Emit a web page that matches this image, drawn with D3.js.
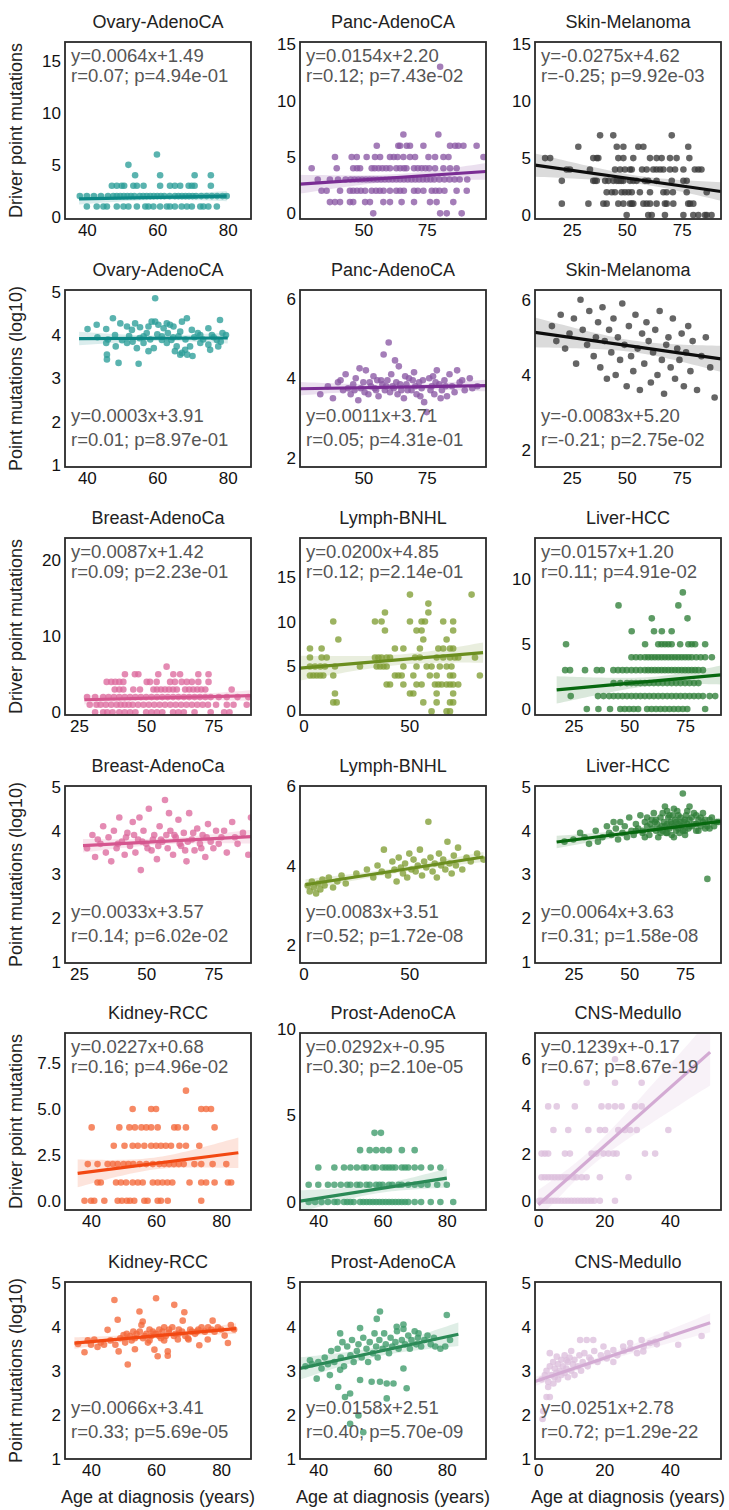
<!DOCTYPE html>
<html><head><meta charset="utf-8">
<script src="https://cdn.jsdelivr.net/npm/d3@7"></script>
<style>body{margin:0;background:#fff} svg text{font-family:"Liberation Sans",Arial,sans-serif}</style>
</head><body><svg id="c" width="729" height="1510"></svg>
<script>
// ---------------- DATA ----------------
const titles = ["Ovary-AdenoCA","Panc-AdenoCA","Skin-Melanoma","Ovary-AdenoCA","Panc-AdenoCA","Skin-Melanoma",
  "Breast-AdenoCa","Lymph-BNHL","Liver-HCC","Breast-AdenoCa","Lymph-BNHL","Liver-HCC",
  "Kidney-RCC","Prost-AdenoCA","CNS-Medullo","Kidney-RCC","Prost-AdenoCA","CNS-Medullo"];
const yTitles = ["Driver point mutations","Point mutations (log10)"];
const xTitle = "Age at diagnosis (years)";
const eqTexts = ["y=0.0064x+1.49","y=0.0154x+2.20","y=-0.0275x+4.62","y=0.0003x+3.91","y=0.0011x+3.71","y=-0.0083x+5.20",
  "y=0.0087x+1.42","y=0.0200x+4.85","y=0.0157x+1.20","y=0.0033x+3.57","y=0.0083x+3.51","y=0.0064x+3.63",
  "y=0.0227x+0.68","y=0.0292x+-0.95","y=0.1239x+-0.17","y=0.0066x+3.41","y=0.0158x+2.51","y=0.0251x+2.78"];
const statTexts = ["r=0.07; p=4.94e-01","r=0.12; p=7.43e-02","r=-0.25; p=9.92e-03","r=0.01; p=8.97e-01","r=0.05; p=4.31e-01","r=-0.21; p=2.75e-02",
  "r=0.09; p=2.23e-01","r=0.12; p=2.14e-01","r=0.11; p=4.91e-02","r=0.14; p=6.02e-02","r=0.52; p=1.72e-08","r=0.31; p=1.58e-08",
  "r=0.16; p=4.96e-02","r=0.30; p=2.10e-05","r=0.67; p=8.67e-19","r=0.33; p=5.69e-05","r=0.40; p=5.70e-09","r=0.72; p=1.29e-22"];
const slopes = [0.0064,0.0154,-0.0275,0.0003,0.0011,-0.0083,0.0087,0.0200,0.0157,0.0033,0.0083,0.0064,0.0227,0.0292,0.1239,0.0066,0.0158,0.0251];
const intercepts = [1.49,2.20,4.62,3.91,3.71,5.20,1.42,4.85,1.20,3.57,3.51,3.63,0.68,-0.95,-0.17,3.41,2.51,2.78];
const lineRanges = [[37.8,79.7],[25,98.4],[8.3,92.9],[37.8,80],[25,98.4],[8.3,92.9],
  [27,89],[-1.6,84.8],[17.5,91.1],[26.5,89],[1,85],[17.5,91.1],
  [35.9,85.3],[34.3,80],[0,52.2],[34.9,84.6],[34.3,83.6],[-1,52.2]];
const xDomains = [[33.8,86.6],[25,98.4],[8.3,92.9],[33.8,86.6],[25,98.4],[8.3,92.9],
  [19.8,89],[-1.6,86.2],[7.8,91.1],[19.8,89],[-1.6,86.2],[7.8,91.1],
  [32,89.2],[34.3,92.2],[-1,55.5],[32,89.2],[34.3,92.2],[-1,55.5]];
const yDomains = [[-0.2,16.8],[-0.5,15.2],[-0.35,15.2],[0.96,5.04],[1.77,6.22],[1.55,6.26],
  [-0.35,22.9],[-0.4,19.3],[-0.46,13.2],[0.98,5.02],[1.55,6.0],[0.98,5.02],
  [-0.5,9.14],[-0.46,9.77],[-0.39,7.11],[1.0,5.03],[0.99,5.02],[0.99,5.02]];
const xTickVals = [[40,60,80],[50,75],[25,50,75],[40,60,80],[50,75],[25,50,75],
  [25,50,75],[0,50],[25,50,75],[25,50,75],[0,50],[25,50,75],
  [40,60,80],[40,60,80],[0,20,40],[40,60,80],[40,60,80],[0,20,40]];
const yTickVals = [[0,5,10,15],[0,5,10,15],[0,5,10,15],[1,2,3,4,5],[2,4,6],[2,4,6],
  [0,10,20],[0,5,10,15],[0,5,10],[1,2,3,4,5],[2,4,6],[1,2,3,4,5],
  [0,2.5,5,7.5],[0,5,10],[0,2,4,6],[1,2,3,4,5],[1,2,3,4,5],[1,2,3,4,5]];
const statPlacement = ["top","top","top","bottom","bottom","bottom","top","top","top","bottom","bottom","bottom","top","top","top","bottom","bottom","bottom"];

// driver mutation counts: [count, [ages...]]
const ovaryDrv = [[6,[59.9]],[5,[51.8]],[4,[53.7,60.8,70.6,75.2]],
  [3,[47.1,48.5,49.9,50.6,53.2,54.2,56.1,60.8,63.6,65.0,66.5,68.9,69.8,70.6,75.2]],
  [2,[38,40,42,44,46,47.5,48.5,49.5,50.5,51.5,52.5,53.5,55,56,57,58,59,60,61,62,63.5,65,66,67,68,69,70,71,72.5,74,75.5,77,78.5,79.7]],
  [1,[40,42.8,44.7,45.7,48.5,50.4,51.8,54.2,56.6,57.5,58.9,60.8,62.7,63.6,65,66.9,68.4,69.8,72.2,73.1,74.5,76.9]]];
const pancDrv = [[13,[80.3]],[7,[65.8,79.6]],[6,[55.3,63.8,64.5,67.1,68.4,73.7,84.2,86.2,87.5,89.5,94.7]],
  [5,[38.8,45.4,47.4,51.3,54.6,56.6,60.5,62,63.5,65.8,68.4,70.4,75.7,78.3,81.6,83.6,97.4]],
  [4,[29.6,39.5,46,47.5,48.7,53.3,54.5,56,57.5,59,60.5,63,64.5,66,67,70,71.5,73,74.5,76,78.3,81.6,84.2,86.8]],
  [3,[32,36.8,40,43,45,46.5,48,49.5,51,52.5,54,55.5,57,58.5,60,61.5,63,64.5,66,67.5,69,70.5,72,73.5,75,76.5,78,80,82,84,86,88,91]],
  [2,[33.5,35.5,40.8,44.7,46,47.5,49,50.7,53.3,55,56.5,58,60.5,63,64.5,66,70,71.5,73.7,77,78.5,80,82,86.8,90.8]],
  [1,[36.8,38.8,40.8,44.7,46,50.7,52.6,57.9,60.5,65.1,70,76.3,78.9,85.5]],
  [0,[53.9,80.3,82.9,88.8]]];
const skinDrv = [[7,[37.9,43.9,70.5]],[6,[28,45.5,48.5,55.3,57.6,78]],
  [5,[12.9,15.2,34.8,36.4,37.1,46.2,48.5,53,60.6,63.6,65.9,69.7,72.7,78.5]],
  [4,[22.7,24.2,33.3,44.7,47,49.2,51.5,52.3,57,59.1,62.1,63.6,65.2,66.7,69.7,72,75.8,81,82.6,84]],
  [3,[20.5,34.8,35.6,36.4,40.2,41.7,43.9,45.5,46.5,47.5,48.5,51.5,53,54.5,58.3,59.8,63.6,70.5,75.8,77.3]],
  [2,[40.9,43.2,44.7,47.7,49.2,50.8,52.3,56,60.6,66.7,68.2,71,77.3,86.4]],
  [1,[20.5,32.6,39.4,40.9,46.2,48.5,51.5,52.3,53,57.6,59.1,60.6,63.6,67.4,68.2,71.2,78,78.8,80.3]],
  [0,[50,59.8,61.4,67.4,75.8,80.3,82.6,85.6,86.4,88.6]]];
const breastDrv = [[6,[57.6]],[5,[42.1,45.8,47.1,54.5,60.1,62.6,69.4,73.2]],
  [4,[35.3,37,38.5,40,41.5,50.2,51.4,53.9,58.9,60.7,63.2,65.1,67,69.4,73.2]],
  [3,[38.3,40,41.5,45.2,47.7,52.7,54,55.5,57,58.5,60,61.4,64.5,66,67.5,69,70.5,72,81.8]],
  [2,[28,31,34,36,38,40,42,44,46,48,50,52,54,56,58,60,62,64,66,68,70,72,74,77,80,84,88]],
  [1,[29,31.5,33,35,37,39,40.5,42,43.5,45,47,49,51,53,55,57,59,61,63,65,67,69,71,73,76,80,82.5,87.4]],
  [0,[31,34,35.5,37.5,40,42,44,46,50,52,54,56,60,62,64,68,74,79,81]]];
const lymphDrv = [[13,[50.3,79.4]],[12,[59]],[11,[38.5,59]],[10,[14.1,33.8,36.9,50.3,55.8,57.4,66,70.7]],
  [9,[38.5,53.4,55.8,70.7]],[8,[16.5,56.6,67.6]],[7,[3.1,8.6,43.2,47.2,55,63.7,66,69.2,70.7]],
  [6,[3.1,8.6,11,33.8,35.4,36.9,39.3,40.9,52.7,55,62.9,66,69.2,71.5,73.1,81]],
  [5,[3.1,5.5,8,10.2,14.9,26.7,34.6,36.2,37.8,39.3,47.2,53.4,58.2,60.5,64.4,67.6,69.9]],
  [4,[3.1,4.7,6.3,7.9,9.4,14.1,43.2,44.8,46.4,51.9,59.7,62.9,69.2,70.7,83.3]],
  [3,[39.3,40.9,47.2,53.4,55.8,62.1,63.7,65.3,67.6,69.2,70.7,73.1]],
  [2,[14.9,50.3,51.9,62.9,70.7]],[1,[14.1,15.7,56.6,62.9,69.2,70.7]],[0,[60.5,67.6,69.2]]];
const liverDrv = [[9,[74]],[8,[45.2,72]],[7,[60.1,76.1]],[6,[51.1,61.1,64.6,69]],
  [5,[21.7,57.1,63,64.5,66,67.5,69,72.8,76.5,78,79.5,84]],
  [4,[51,53,55,57,58.5,60,61.5,63,64.5,66,67.5,69,70.5,72,73.5,75,76.5,78,80,82,84,87]],
  [3,[21.3,23.5,30.2,35.5,37.7,42.9,45,47,48.9,51,53,55,57,58.5,60,61.5,63,64.5,66,67.5,69,70.5,72,73.5,75,76.5,78,79.5,81,83]],
  [2,[43,46,49,51,53,55,57,59,61,63,65,67,69,71,73,75,77,79,81]],
  [1,[23.8,36,38.5,41,43,45,47,49,51,53,55,57,59,61,63,65,67,69,71,73,75,77,79,81,83,86,88.5]],
  [0,[31,36.2,41.4,46,48,50,52,54,58,60,62,64,66,68,70,72,74,76,84]]];
const kidneyDrv = [[6,[69.2]],[5,[52.8,58.5,60,73.9,75.4,76.9]],
  [4,[40.2,48.7,51.8,53.5,55.5,57,58.5,60.5,65.6,66.7,69.2,78]],
  [3,[47,50.3,52.8,54.4,56.4,58.5,60,61.5,63,64.6,67.2,69.2,73.3]],
  [2,[39,42,45.1,46.7,48.2,50,51.5,53,55,57,59,61,62.5,64,65.5,67,68.5,71.8,73.9,77.4,81.6]],
  [1,[42,43,47.7,49.2,50.8,52.8,54.4,55.9,59,60.5,62,63.5,65,70.3,73.9,75.4,78,82.1,83.1]],
  [0,[38,40,41,44.1,48.2,49.5,51,52,53.3,56.4,57.4,60.5,61.5,63.6,73.9]]];
const prostDrv = [[4,[57.5,59.5]],[3,[53,56,58,60,62,66,70]],
  [2,[40,45,48,50,52,54,55,57,58,60,61,62,63,64,66,67,68,70,72,75,78]],
  [1,[37,40,43,45,47,49,50,52,53,55,56,58,59,60,62,63,65,66,68,70,72,74,77,80]],
  [0,[37,39,41,43,45,46,48,49,50,51,53,54,55,56,57,58,59,60,61,62,63,64,65,66,67,68,70,72,75,78,82]]];
const cnsDrv = [[6,[23.3]],[5,[14.7,23.3,31.4]],[4,[3,5.6,11.1,19.2,21.3,23.3,25.3,29.4,31.4]],
  [3,[4.6,9.1,15.2,18.7,20.3,24.3,26.3,27.9,29.9,39.5]],
  [2,[1,2,3,8.1,9.6,16.2,17.7,19.8,21.3,22.8,23.8,32.4,35.5]],
  [1,[1,2,3,4,5,6,7,8,9,10.6,11.6,13.2,14.7,18.7,27.4]],
  [0,[0.3,1,2,3,4,5,6,7,8,9,10,11,12,13,14,15,16,17,18.7,23.3]]];

// log10 point mutations: [age, value]
const ovaryLog = [[59.4,4.85],[40.2,4.14],[42.8,4.24],[45.5,4.14],[47.4,4.39],[49.5,4.27],[51.4,4.2],[52.8,4.12],[53.7,4.27],[55.1,4.18],[56.1,3.97],[57.5,4.2],[58.4,4.31],[59.4,4.31],[60.3,4.24],[61.8,4.16],[62.7,4.27],[63.6,4.24],[64.6,4.2],[67,4.31],[68.4,4.39],[69.8,4.12],[72.2,4.0],[74.5,4.16],[77.8,4.35],[61.3,3.97],[66,3.97],[45.5,3.82],[45.7,3.55],[45.7,3.44],[49,3.36],[48.2,3.74],[51.4,3.82],[54.2,3.7],[54.7,3.34],[56.1,3.82],[57.5,3.63],[59,3.7],[61.3,3.89],[62.7,3.82],[64,3.89],[65.5,3.74],[67,3.59],[67.9,3.66],[69.3,3.74],[72.2,3.82],[74.5,3.78],[75,3.66],[76.9,3.89],[77.3,3.74],[66.5,3.55],[65,3.63],[68.5,3.55],[70,3.52],[43,3.95],[46,3.9],[48,4.0],[50,3.88],[52,3.98],[53,3.85],[55,3.93],[57,4.05],[58,3.9],[60,4.02],[63,4.05],[64.5,3.95],[66.5,4.08],[68,3.9],[70.5,3.95],[71.5,4.05],[73,3.9],[75.5,4.0],[76,3.95],[78,3.85],[78.5,4.05],[79.5,4.0]];
const pancLog = [[33,3.6],[36,3.8],[38,3.5],[40,3.9],[42,3.7],[43,4.1],[45,3.6],[46,3.85],[47,4.0],[48,3.45],[49,3.75],[50,3.9],[51,4.2],[52,3.6],[53,3.8],[54,4.05],[55,3.7],[56,3.55],[57,3.95],[58,4.6],[59,3.8],[60,4.9],[60.5,3.65],[61,4.1],[62,3.75],[63,3.9],[64,4.3],[65,3.7],[66,3.5],[67,3.85],[68,4.0],[69,3.7],[70,4.15],[71,3.6],[72,3.9],[73,3.75],[74,3.4],[75,3.15],[76,4.0],[77,3.8],[78,3.6],[79,4.2],[80,3.85],[81,3.7],[82,3.95],[83,3.55],[84,4.1],[85,3.8],[86,3.65],[88,3.9],[90,3.7],[92,4.0],[95,3.8],[44,3.75],[50.5,3.65],[55.5,3.95],[58.5,3.7],[63.5,3.6],[66.5,4.05],[69.5,3.95],[72.5,3.55],[77.5,4.05],[80.5,3.5],[87,4.2],[62.5,4.45],[48.5,4.25],[41,3.95],[46.5,3.7],[52.5,3.9],[54.5,3.75],[57.5,3.85],[59.5,3.95],[61.5,3.8],[64.5,3.85],[67.5,3.7],[70.5,3.8],[73.5,3.95],[76.5,3.7],[78.5,3.9],[82.5,3.8],[89,3.95],[93,3.75]];
const skinLog = [[16,5.3],[18,4.9],[20,5.6],[22,4.7],[24,5.1],[26,5.5],[27,4.3],[29,6.0],[30,5.2],[32,4.8],[33,5.7],[35,4.5],[36,5.0],[37,5.4],[38,4.2],[39,5.8],[40,4.9],[41,3.9],[42,5.2],[43,4.6],[44,5.5],[45,4.0],[46,5.0],[47,4.4],[48,5.9],[49,4.8],[50,3.7],[51,5.3],[52,4.5],[53,4.1],[54,5.6],[55,4.7],[56,3.6],[57,5.1],[58,4.3],[59,5.4],[60,4.9],[61,3.8],[62,4.6],[63,5.2],[64,4.0],[65,5.7],[66,4.4],[67,3.5],[68,4.8],[69,5.0],[70,4.2],[71,5.5],[72,3.9],[73,4.7],[74,4.4],[75,5.1],[76,3.7],[77,4.6],[78,5.3],[79,4.1],[80,4.9],[82,3.6],[84,4.5],[86,5.0],[88,4.2],[90,3.4]];
const breastLog = [[28,3.6],[30,3.9],[31,3.4],[33,3.7],[34,4.1],[35,3.5],[36,3.85],[37,3.3],[38,4.0],[39,3.6],[40,4.3],[41,3.75],[42,3.45],[43,3.95],[44,3.65],[45,4.2],[46,3.5],[47,3.8],[48,3.1],[49,4.0],[50,3.7],[51,4.5],[52,3.55],[53,3.9],[54,3.35],[55,4.1],[56,3.75],[57,4.7],[58,3.6],[59,4.0],[60,3.45],[61,3.85],[62,4.25],[63,3.65],[64,3.95],[65,3.3],[66,4.4],[67,3.8],[68,3.55],[69,4.05],[70,3.7],[71,3.9],[72,3.4],[73,4.15],[74,3.75],[75,3.6],[76,4.0],[78,3.85],[80,3.5],[82,4.2],[84,3.7],[86,3.95],[88,3.45],[89,4.3],[45.5,3.9],[50.5,3.6],[55.5,3.8],[60.5,3.9],[65.5,3.75],[58.5,4.4],[47.5,4.3],[32,3.8],[39.5,3.7],[42.5,3.85],[48.5,3.75],[52.5,3.8],[54.5,3.65],[57.5,3.9],[62.5,3.7],[64.5,3.55],[67.5,3.95],[70.5,3.6],[72.5,3.85],[77,3.7],[79,4.0],[83,3.85]];
const lymphLog = [[2,3.5],[3,3.35],[4,3.6],[5,3.45],[6,3.3],[7,3.55],[8,3.4],[9,3.65],[10,3.5],[12,3.7],[14,3.45],[16,3.6],[18,3.75],[20,3.55],[25,3.8],[30,3.9],[33,3.7],[35,4.0],[37,3.85],[38,4.4],[40,3.75],[42,4.1],[43,3.9],[44,3.6],[45,4.2],[46,3.95],[47,3.8],[48,4.05],[49,3.7],[50,4.3],[51,3.9],[52,4.15],[53,3.85],[54,4.0],[55,4.4],[56,3.75],[57,4.1],[58,3.95],[59,5.1],[60,4.2],[61,3.85],[62,4.05],[63,3.7],[64,4.3],[65,4.0],[66,4.15],[67,3.9],[68,4.6],[69,4.05],[70,3.8],[71,4.25],[72,4.0],[73,4.45],[75,3.9],[77,4.2],[79,4.1],[82,4.3],[85,4.15]];
const liverLog = [[21,3.75],[25,3.8],[28,3.95],[32,3.7],[35,4.0],[38,3.85],[40,4.1],[42,3.9],[44,4.05],[45,3.8],[46,4.2],[47,3.95],[48,4.1],[49,3.85],[50,4.3],[51,4.0],[52,3.9],[53,4.15],[54,4.05],[55,4.35],[56,3.95],[57,4.2],[58,4.1],[59,3.9],[60,4.25],[60.5,4.05],[61,4.4],[62,4.0],[62.5,4.15],[63,3.85],[64,4.3],[64.5,4.1],[65,4.0],[65.5,4.2],[66,4.55],[66.5,3.95],[67,4.15],[67.5,4.3],[68,4.05],[68.5,4.2],[69,3.9],[69.5,4.35],[70,4.1],[70.5,4.25],[71,4.0],[71.5,4.45],[72,4.15],[72.5,3.95],[73,4.3],[73.5,4.1],[74,4.85],[74.5,4.2],[75,4.0],[75.5,4.35],[76,4.15],[76.5,4.05],[77,4.25],[78,4.1],[79,4.4],[80,4.15],[81,4.0],[82,4.3],[83,4.2],[84,4.05],[85,2.9],[86,4.25],[88,4.1],[90,4.2],[56,4.0],[58,4.3],[59.5,4.15],[61.5,4.2],[63.5,4.05],[65,4.4],[66,4.1],[67,3.95],[68,4.35],[69,4.15],[70,4.5],[71,4.2],[72,4.05],[73,4.2],[74,4.0],[75,4.25],[76,4.45],[77,4.1],[78,4.3],[79,4.15],[80,4.35],[81,4.25],[82,4.1],[83,4.4],[84,4.25],[85,4.1],[86,4.05],[87,4.3],[89,4.2],[30,3.85],[36,3.75],[41,3.95],[43,4.2],[53,4.0],[57,3.85],[62,4.25],[64,3.95],[67,4.45],[70,3.85],[72,4.35],[75,3.9],[77,4.55],[80,4.0]];
const kidneyLog = [[36,3.62],[38,3.43],[39,3.7],[40,3.6],[41,3.72],[42,3.55],[43,3.65],[44,3.6],[45.1,3.94],[46,3.7],[47.2,4.62],[47.5,3.6],[48.2,4.17],[48.5,3.45],[49,3.75],[50,3.82],[50.5,3.65],[51.3,3.15],[52,3.8],[52.5,3.7],[53,3.9],[53.5,3.5],[54,3.85],[54.9,4.36],[55.5,4.05],[55.9,4.13],[56,3.75],[57,3.85],[57.5,3.65],[58,3.95],[58.5,3.8],[59,3.9],[59.5,3.49],[60,4.66],[60,3.85],[60.5,3.34],[61,3.95],[61.5,3.75],[62,3.9],[62.5,4.0],[63,3.8],[63.6,3.45],[63.6,3.35],[64,3.88],[65,4.0],[65.6,4.51],[66,3.85],[66.7,3.72],[67,3.95],[68,3.9],[68.2,4.15],[68.7,4.34],[69,3.8],[69.8,3.75],[70,3.72],[71,3.9],[72,3.85],[73,3.95],[73.3,3.59],[74,4.0],[75,3.9],[75.9,3.72],[76,4.0],[77,3.95],[77.4,4.15],[78,3.9],[79,4.0],[80,3.95],[81.1,3.81],[82.1,3.64],[83,4.05],[84,3.95],[51,3.85],[53.5,3.75],[55,3.9],[56.5,3.8],[58,3.7],[59.5,3.85],[61,3.8],[62.5,3.7],[64,3.95],[65.5,3.8],[67,3.85],[70.5,3.95],[72.5,3.9]];
const prostLog = [[37.4,3.24],[39.5,2.82],[43.6,2.9],[46.8,3.02],[46.2,2.63],[48.3,2.4],[49.9,2.48],[49.9,1.79],[52.5,1.98],[53,2.79],[54,1.6],[56.6,2.75],[59.2,2.75],[61.3,2.71],[63.4,2.71],[61.3,2.37],[66.5,3.05],[67.5,2.6],[76.4,3.55],[79.5,3.55],[81,3.7],[71.2,3.85],[66.5,4.05],[64.4,4.0],[53,3.97],[46.8,3.85],[59.2,4.35],[58.2,4.18],[80,4.27],[36,3.1],[38,3.15],[40,3.2],[41,3.05],[42,3.3],[43,3.15],[44,3.45],[45,3.2],[46,3.5],[47,3.3],[47.5,3.65],[48,3.1],[49,3.55],[50,3.35],[50.5,3.7],[51,3.2],[52,3.45],[52.5,3.6],[53.5,3.3],[54,3.75],[55,3.5],[55.5,3.2],[56,3.65],[57,3.4],[57.5,3.85],[58,3.55],[58.5,3.3],[59,3.7],[60,3.5],[60.5,3.85],[61,3.6],[62,3.4],[62.5,3.75],[63,3.55],[64,3.65],[64.5,3.9],[65,3.5],[66,3.7],[66.5,3.95],[67,3.6],[68,3.8],[68.5,3.5],[69,3.7],[70,3.9],[70.5,3.6],[71,3.75],[72,3.55],[73,3.7],[74,3.8],[75,3.6],[76,3.75],[78,3.5]];
const cnsLog = [[1.5,2.08],[1.3,1.9],[2.5,2.4],[3.5,2.4],[3,2.63],[4.6,2.71],[3.5,3.4],[5.6,3.32],[8.6,3.24],[12.7,3.7],[14.7,3.7],[16.7,3.7],[19.8,3.55],[22.8,3.47],[25.8,3.55],[27.9,3.63],[31.4,3.7],[31.9,3.44],[33.9,3.63],[35.5,3.66],[39,3.82],[42.5,3.59],[49.6,3.79],[22.8,3.2],[20.8,3.28],[1,2.8],[2,2.9],[2.5,3.0],[3,2.75],[3.5,3.1],[4,2.9],[4.5,3.2],[5,2.85],[5,3.05],[5.5,2.95],[6,3.15],[6,2.8],[6.5,3.0],[7,3.25],[7,2.9],[7.5,3.1],[8,3.35],[8,2.95],[8.5,3.05],[9,3.2],[9,2.85],[9.5,3.3],[10,3.0],[10,3.45],[10.5,3.15],[11,3.25],[11,2.9],[12,3.1],[12.5,3.35],[13,3.0],[13.5,3.2],[14,3.4],[15,3.1],[15.5,3.3],[16,3.25],[17,3.45],[18,3.2],[19,3.35],[21,3.4],[24,3.35],[26,3.45],[28,3.5],[30,3.4],[32,3.55],[36,3.6]];

const pointColors = {ovary:"#2b9e99",panc:"#8a58a4",skin:"#3a3a3a",breast:"#dc6a9d",lymph:"#809e34",liver:"#2f7f38",kidney:"#f4683a",prost:"#3c9a69",cns:"#dcbfdc"};
const lineColors = {ovary:"#0c8886",panc:"#7a2d94",skin:"#0d0d0d",breast:"#d5568f",lymph:"#6b8e1f",liver:"#07680f",kidney:"#f24812",prost:"#2b8a57",cns:"#d3aad3"};
const cancerKeys = ["ovary","panc","skin","ovary","panc","skin","breast","lymph","liver","breast","lymph","liver","kidney","prost","cns","kidney","prost","cns"];

// ---------------- BUILD ----------------
const expand = rows => rows.flatMap(([v, ages]) => ages.map(a => [a, v]));
const panelPoints = [expand(ovaryDrv), expand(pancDrv), expand(skinDrv), ovaryLog, pancLog, skinLog,
  expand(breastDrv), expand(lymphDrv), expand(liverDrv), breastLog, lymphLog, liverLog,
  expand(kidneyDrv), expand(prostDrv), expand(cnsDrv), kidneyLog, prostLog, cnsLog];

const colX = [65, 300, 535], rowY = [42, 290, 538, 786, 1033, 1282];
const W = 186, H = 177;
const svg = d3.select("#c");
const FONT = '"Liberation Sans", Arial, sans-serif';

panelPoints.forEach((pts, i) => {
  const r = Math.floor(i / 3), c = i % 3;
  const x0 = colX[c], y0 = rowY[r];
  const key = cancerKeys[i];
  const xs = d3.scaleLinear().domain(xDomains[i]).range([0, W]);
  const ys = d3.scaleLinear().domain(yDomains[i]).range([H, 0]);
  const g = svg.append("g").attr("transform", `translate(${x0},${y0})`);
  const clipId = "clip" + i;
  g.append("clipPath").attr("id", clipId).append("rect").attr("width", W).attr("height", H);
  const inner = g.append("g").attr("clip-path", `url(#${clipId})`);

  const a = slopes[i], b = intercepts[i];
  const n = pts.length, mx = d3.mean(pts, d => d[0]);
  const sxx = d3.sum(pts, d => (d[0] - mx) ** 2);
  const s = Math.sqrt(d3.sum(pts, d => (d[1] - (a * d[0] + b)) ** 2) / (n - 2));
  const [l0, l1] = lineRanges[i];
  const bx = d3.range(0, 41).map(k => l0 + (l1 - l0) * k / 40);
  const band = bx.map(x => { const h = 1.97 * s * Math.sqrt(1 / n + (x - mx) ** 2 / sxx); return [x, a * x + b - h, a * x + b + h]; });
  inner.append("path").datum(band)
    .attr("d", d3.area().x(d => xs(d[0])).y0(d => ys(d[1])).y1(d => ys(d[2])))
    .attr("fill", lineColors[key]).attr("opacity", 0.15);

  inner.selectAll("circle").data(pts).join("circle")
    .attr("cx", d => xs(d[0])).attr("cy", d => ys(d[1])).attr("r", 3.3)
    .attr("fill", pointColors[key]).attr("opacity", 0.78);

  inner.append("line")
    .attr("x1", xs(l0)).attr("y1", ys(a * l0 + b)).attr("x2", xs(l1)).attr("y2", ys(a * l1 + b))
    .attr("stroke", lineColors[key]).attr("stroke-width", 3.2);

  g.append("rect").attr("width", W).attr("height", H).attr("fill", "none")
    .attr("stroke", "#2a2a2a").attr("stroke-width", 1.8);

  const fmt = i === 12 ? d3.format(".1f") : d3.format("d");
  const ya = g.append("g").call(d3.axisLeft(ys).tickValues(yTickVals[i]).tickSize(0).tickPadding(4).tickFormat(fmt));
  ya.select(".domain").remove();
  ya.selectAll("text").attr("font-size", 17).attr("font-family", FONT).attr("fill", "#111");
  const xa = g.append("g").attr("transform", `translate(0,${H})`)
    .call(d3.axisBottom(xs).tickValues(xTickVals[i]).tickSize(0).tickPadding(5).tickFormat(d3.format("d")));
  xa.select(".domain").remove();
  xa.selectAll("text").attr("font-size", 17).attr("font-family", FONT).attr("fill", "#111");

  g.append("text").attr("x", W / 2).attr("y", -14).attr("text-anchor", "middle")
    .attr("font-size", 18).attr("fill", "#222").text(titles[i]);

  const top = statPlacement[i] === "top";
  const t1 = top ? 20 : H - 45, t2 = top ? 40 : H - 21;
  g.append("text").attr("x", 6).attr("y", t1).attr("font-size", 18.5).attr("fill", "#555").text(eqTexts[i]);
  g.append("text").attr("x", 6).attr("y", t2).attr("font-size", 18.5).attr("fill", "#555").text(statTexts[i]);

  if (c === 0) {
    svg.append("text").attr("transform", `translate(22,${y0 + H / 2}) rotate(-90)`)
      .attr("text-anchor", "middle").attr("font-size", 18).attr("fill", "#222")
      .text(yTitles[r % 2]);
  }
  if (r === 5) {
    svg.append("text").attr("x", x0 + W / 2).attr("y", 1503).attr("text-anchor", "middle")
      .attr("font-size", 18).attr("fill", "#222").text(xTitle);
  }
});
</script></body></html>
